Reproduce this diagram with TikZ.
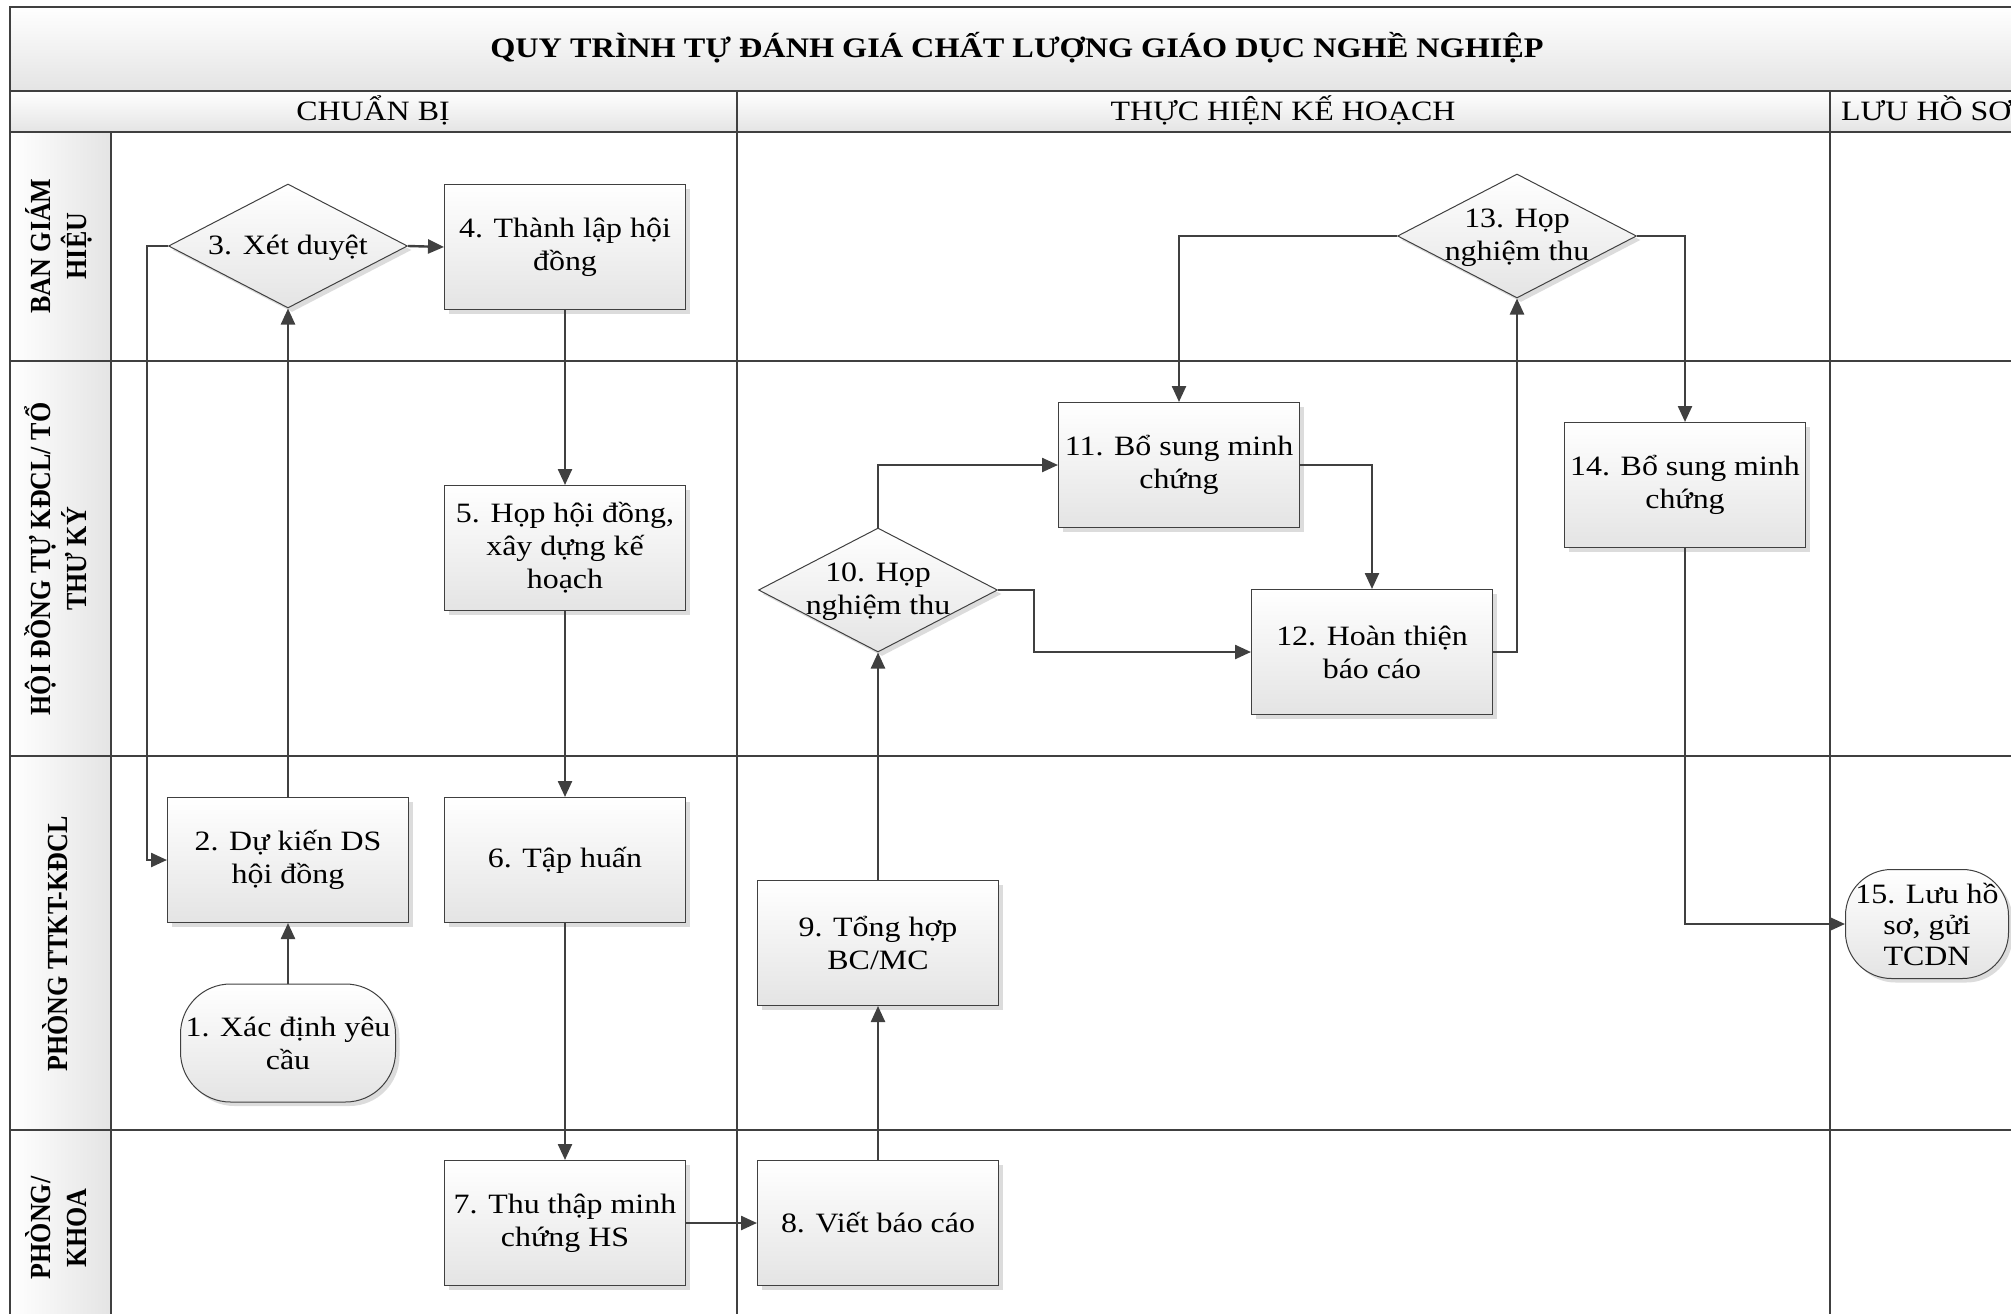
\documentclass[tikz,border=0pt]{standalone}
\usepackage{fontspec}
\setmainfont{Liberation Serif}[FakeStretch=1.14]
\newfontfamily\lanefont{Liberation Serif}
\usetikzlibrary{shapes.geometric,arrows.meta,shadows}
\definecolor{lineC}{RGB}{64,64,64}
\definecolor{fillB}{RGB}{228,228,228}
\definecolor{hdrC}{RGB}{228,228,228}
\newcommand\nfont{\fontsize{28}{33}\selectfont}
\newcommand\lanetxt[1]{\scalebox{1}[1.12]{\begin{tabular}{@{}c@{}}#1\end{tabular}}}
\begin{document}
\begin{tikzpicture}[x=1pt,y=-1pt,
  shad/.style={drop shadow={shadow xshift=4pt,shadow yshift=-4pt,fill=black!30,opacity=0.45}},
  boxS/.style={rectangle,draw=lineC,line width=1pt,top color=white,bottom color=fillB,
    minimum width=241pt,minimum height=125pt,inner sep=0pt,align=center,font=\nfont,shad},
  diaS/.style={diamond,draw=lineC,line width=1pt,top color=white,bottom color=fillB,
    minimum width=239pt,minimum height=124pt,inner sep=0pt,shad},
  termS/.style={rectangle,rounded corners=50pt,draw=lineC,line width=1pt,top color=white,bottom color=fillB,
    inner sep=0pt,align=center,font=\nfont,shad},
  txt/.style={align=center,font=\nfont,inner sep=0pt},
  lane/.style={rotate=90,align=center,inner sep=0pt,font=\lanefont\fontsize{26}{32}\selectfont\bfseries},
  conn/.style={draw=lineC,line width=2.4pt,-{Triangle[length=16pt,width=14pt]}}]
\useasboundingbox (0,0) rectangle (2011,1314);
\clip (0,0) rectangle (2011,1314);
% backgrounds
\shade[top color=white,bottom color=hdrC] (10,7) rectangle (2040,91);
\shade[top color=white,bottom color=hdrC] (10,91) rectangle (2040,132);
\shade[left color=white,right color=hdrC] (10,132) rectangle (111,1340);
% grid
\draw[lineC,line width=2.5pt] (10,1340) -- (10,7) -- (2040,7);
\draw[lineC,line width=2.5pt] (10,91) -- (2040,91);
\draw[lineC,line width=2.5pt] (10,132) -- (2040,132);
\foreach \yy in {361,756,1130} \draw[lineC,line width=2.5pt] (10,\yy) -- (2040,\yy);
\draw[lineC,line width=1.5pt] (111,132) -- (111,1340);
\draw[lineC,line width=1.5pt] (737,91) -- (737,1340);
\draw[lineC,line width=1.5pt] (1830,91) -- (1830,1340);
% titles
\node[anchor=base,inner sep=0pt,font=\fontsize{28.3}{32}\selectfont\bfseries] (title) at (1017,58) {QUY TRÌNH TỰ ĐÁNH GIÁ CHẤT LƯỢNG GIÁO DỤC NGHỀ NGHIỆP};
\node[anchor=base,inner sep=0pt,font=\nfont] (ph1) at (373,121) {CHUẨN BỊ};
\node[anchor=base,inner sep=0pt,font=\nfont] (ph2) at (1283,121) {THỰC HIỆN KẾ HOẠCH};
\node[anchor=base west,inner sep=0pt,font=\nfont] (ph3) at (1841,121) {LƯU HỒ SƠ};
% lanes
\node[lane] (l1) at (61,246) {\lanetxt{BAN GIÁM\\HIỆU}};
\node[lane] (l2) at (61,559) {\lanetxt{HỘI ĐỒNG TỰ KĐCL/ TỔ\\THƯ KÝ}};
\node[lane] (l3) at (60,944) {\lanetxt{PHÒNG TTKT-KĐCL}};
\node[lane] (l4) at (61,1228) {\lanetxt{PHÒNG/\\KHOA}};
% nodes
\node[termS,minimum width=215pt,minimum height=118pt] (t1) at (288,1043) {1. Xác định yêu\\cầu};
\node[boxS] (b2) at (288,860) {2. Dự kiến DS\\hội đồng};
\node[diaS] (d3) at (288,246) {};
\node[txt] (d3t) at (288,248) {3. Xét duyệt};
\node[boxS] (b4) at (565,247) {4. Thành lập hội\\đồng};
\node[boxS] (b5) at (565,548) {5. Họp hội đồng,\\xây dựng kế\\hoạch};
\node[boxS] (b6) at (565,860) {6. Tập huấn};
\node[boxS] (b7) at (565,1223) {7. Thu thập minh\\chứng HS};
\node[boxS] (b8) at (878,1223) {8. Viết báo cáo};
\node[boxS] (b9) at (878,943) {9. Tổng hợp\\BC/MC};
\node[diaS] (d10) at (878,590) {};
\node[txt] (d10t) at (878,592) {10. Họp\\nghiệm thu};
\node[boxS] (b11) at (1179,465) {11. Bổ sung minh\\chứng};
\node[boxS] (b12) at (1372,652) {12. Hoàn thiện\\báo cáo};
\node[diaS] (d13) at (1517,236) {};
\node[txt] (d13t) at (1517,238) {13. Họp\\nghiệm thu};
\node[boxS] (b14) at (1685,485) {14. Bổ sung minh\\chứng};
\node[termS,minimum width=163pt,minimum height=109pt,rounded corners=46pt,font=\fontsize{28}{31}\selectfont] (t15) at (1927,924) {15. Lưu hồ\\sơ, gửi\\TCDN};
% connectors
\draw[conn] (t1.north) -- (b2.south);
\draw[conn] (b2.north) -- (d3.south);
\draw[conn] (d3.west) -- ++(-21,0) |- (b2.west);
\draw[conn] (d3.east) -- (b4.west);
\draw[conn] (b4.south) -- (b5.north);
\draw[conn] (b5.south) -- (b6.north);
\draw[conn] (b6.south) -- (b7.north);
\draw[conn] (b7.east) -- (b8.west);
\draw[conn] (b8.north) -- (b9.south);
\draw[conn] (b9.north) -- (d10.south);
\draw[conn] (d10.north) |- (b11.west);
\draw[conn] (d10.east) -- ++(36,0) |- (b12.west);
\draw[conn] (b11.east) -| (b12.north);
\draw[conn] (b12.east) -| (d13.south);
\draw[conn] (d13.west) -| (b11.north);
\draw[conn] (d13.east) -| (b14.north);
\draw[conn] (b14.south) |- (t15.west);
\end{tikzpicture}
\end{document}
